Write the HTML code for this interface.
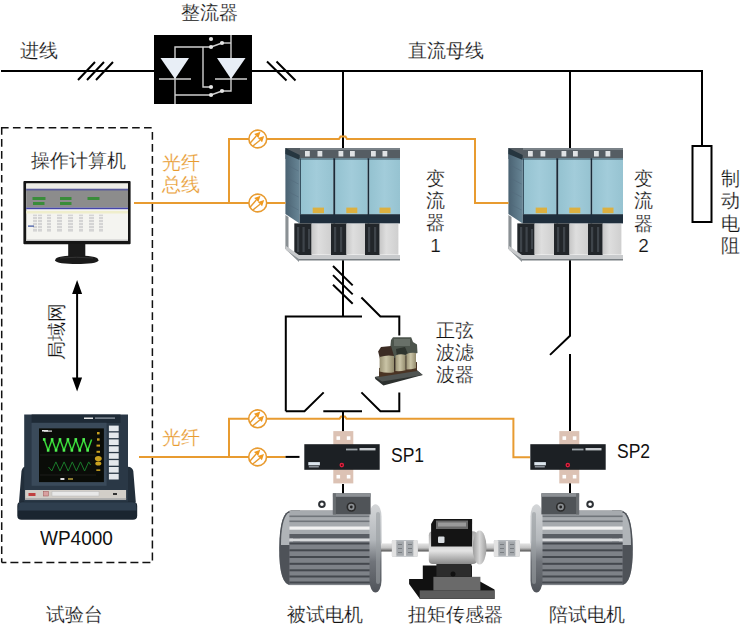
<!DOCTYPE html>
<html><head><meta charset="utf-8">
<style>
html,body{margin:0;padding:0;background:#fff;}
body{width:740px;height:626px;overflow:hidden;position:relative;font-family:"Liberation Sans",sans-serif;}
svg{position:absolute;left:0;top:0;}
.t{position:absolute;font-size:19px;line-height:22px;color:#111;-webkit-text-stroke:0.2px #fff;white-space:nowrap;}
.c{text-align:center;}
.o{color:#E89B30;}
</style></head><body>
<svg width="740" height="626" viewBox="0 0 740 626">
<defs>
 <linearGradient id="coil" x1="0" y1="0" x2="1" y2="0">
  <stop offset="0" stop-color="#9a9274"/><stop offset="0.45" stop-color="#cac4a6"/><stop offset="1" stop-color="#948c6e"/>
 </linearGradient>
 <linearGradient id="flange" x1="0" y1="0" x2="0" y2="1">
  <stop offset="0" stop-color="#d4d6d8"/><stop offset="0.4" stop-color="#b4b8bc"/><stop offset="0.65" stop-color="#70747a"/><stop offset="1" stop-color="#50545a"/>
 </linearGradient>
 <linearGradient id="shaft" x1="0" y1="0" x2="0" y2="1">
  <stop offset="0" stop-color="#e4e4e4"/><stop offset="0.55" stop-color="#c4c4c4"/><stop offset="1" stop-color="#505050"/>
 </linearGradient>
 <linearGradient id="bodyS" x1="0" y1="0" x2="0" y2="1">
  <stop offset="0" stop-color="#a8a8a8"/><stop offset="0.6" stop-color="#e4e4e4"/><stop offset="1" stop-color="#8a8a8a"/>
 </linearGradient>
 <linearGradient id="capS" x1="0" y1="0" x2="1" y2="0">
  <stop offset="0" stop-color="#9a9a9a"/><stop offset="0.5" stop-color="#d8d8d8"/><stop offset="1" stop-color="#a0a0a0"/>
 </linearGradient>

 <linearGradient id="silverV" x1="0" y1="0" x2="0" y2="1">
  <stop offset="0" stop-color="#e8e8e8"/><stop offset="0.5" stop-color="#c4c4c4"/><stop offset="1" stop-color="#9a9a9a"/>
 </linearGradient>
 <linearGradient id="silverH" x1="0" y1="0" x2="1" y2="0">
  <stop offset="0" stop-color="#c6c6c6"/><stop offset="0.35" stop-color="#dedede"/><stop offset="1" stop-color="#cfcfcf"/>
 </linearGradient>
 <linearGradient id="blueP" x1="0" y1="0" x2="1" y2="0">
  <stop offset="0" stop-color="#94c2d0"/><stop offset="0.5" stop-color="#a2ccda"/><stop offset="1" stop-color="#96c3d1"/>
 </linearGradient>
 <linearGradient id="sideP" x1="0" y1="0" x2="1" y2="0">
  <stop offset="0" stop-color="#4a6272"/><stop offset="1" stop-color="#688696"/>
 </linearGradient>

 <g id="optic">
  <circle cx="0" cy="0" r="8.9" fill="#fff" stroke="#E89B30" stroke-width="1.6"/>
  <path d="M-7.8 4.2 L-1.5 -3 M-5.2 7.3 L2.2 1.2" stroke="#E89B30" stroke-width="1.4" fill="none"/>
  <path d="M2.7 -7.2 L-3.6 -5.1 L0.6 -0.9 Z M6.4 -3 L0.1 -0.9 L4.3 3.3 Z" fill="#F09A20"/>
 </g>
 <g id="sp">
  <rect x="333.3" y="431.1" width="20" height="52.3" fill="#dcc2b4"/>
  <g fill="#fff"><rect x="336.5" y="436.3" width="3.6" height="3.6"/><rect x="346.8" y="436.3" width="3.6" height="3.6"/>
  <rect x="336.5" y="474.9" width="3.6" height="3.6"/><rect x="346.8" y="474.9" width="3.6" height="3.6"/></g>
  <rect x="304.3" y="444.2" width="75.4" height="25.6" fill="#1c2024"/>
  <rect x="308.3" y="462.1" width="11.6" height="3.2" fill="#dde6ee"/>
  <rect x="308.8" y="466" width="10" height="1.5" fill="#8a9098"/>
  <circle cx="341.8" cy="465.1" r="2.3" fill="#e02040"/>
  <circle cx="341.8" cy="465.1" r="0.9" fill="#400"/>
  <rect x="346" y="448.6" width="11.5" height="1.8" fill="#9aa0a6"/>
  <rect x="359.5" y="448" width="16" height="2.4" fill="#c8ccd0"/>
 </g>
 <g id="conv">
  <!-- top strip -->
  <path d="M285.4 148 H400 V159 H285.4 Z" fill="#555d63"/>
  <path d="M300 148 H400 V150 H300 Z" fill="#7a8288"/>
  <!-- frame left edge (lower) -->
  <path d="M285.4 215 V249 L299 262 V258 L288.5 248 V217 Z" fill="#8a9094"/>
  <!-- left side panel -->
  <path d="M285.4 150 L299.7 158.4 V223.4 L285.4 214 Z" fill="url(#sideP)"/>
  <path d="M285.4 148 L299.7 155 V160 L285.4 154 Z" fill="#263640"/>
  <g stroke="#52697a" stroke-width="0.5">
   <path d="M287 165 L298.5 171 M287 178 L298.5 184 M287 191 L298.5 197 M287 204 L298.5 210"/>
  </g>
  <!-- blue panels -->
  <rect x="299.7" y="158.4" width="33.6" height="56" fill="url(#blueP)"/>
  <rect x="335.2" y="158.4" width="32.4" height="56" fill="url(#blueP)"/>
  <rect x="369.2" y="158.4" width="30.8" height="56" fill="url(#blueP)"/>
  <rect x="299.7" y="158.4" width="100.3" height="1.3" fill="#5a7a88"/>
  <rect x="333.3" y="158.4" width="1.9" height="65" fill="#1a2a38"/>
  <rect x="367.6" y="158.4" width="1.6" height="65" fill="#1a2a38"/>
  <rect x="299.7" y="158.4" width="1.2" height="56" fill="#2e4656"/>
  <rect x="299.7" y="214.2" width="100.3" height="9.2" fill="#1f2e3c"/>
  <!-- yellow labels -->
  <rect x="312.7" y="207.6" width="11.3" height="5.6" fill="#dcb040"/>
  <rect x="346.3" y="207.6" width="11" height="5.6" fill="#dcb040"/>
  <rect x="379.5" y="207.6" width="11" height="5.6" fill="#dcb040"/>
  <!-- connectors on top -->
  <g fill="#dfe2e4">
   <rect x="305" y="151" width="4.8" height="5.5"/><rect x="317.5" y="151" width="4.8" height="5.5"/>
   <rect x="338.5" y="151" width="4.8" height="5.5"/><rect x="350" y="151" width="4.8" height="5.5"/>
   <rect x="371" y="151" width="4.8" height="5.5"/><rect x="382.5" y="151" width="4.8" height="5.5"/>
  </g>
  <!-- fans and silver boxes -->
  <g fill="#22262a">
   <rect x="294.3" y="223.4" width="17.3" height="31.6"/>
   <rect x="331" y="223.4" width="15.5" height="31.6"/>
   <rect x="365" y="223.4" width="14.7" height="31.6"/>
  </g>
  <g fill="#3e444a">
   <rect x="297" y="227" width="2.2" height="25"/><rect x="302.5" y="227" width="2.2" height="25"/><rect x="308" y="229" width="2" height="20"/>
   <rect x="334" y="227" width="2.2" height="25"/><rect x="340" y="227" width="2.2" height="25"/>
   <rect x="368" y="227" width="2.2" height="25"/><rect x="374" y="227" width="2.2" height="25"/>
  </g>
  <rect x="311.6" y="224" width="19.4" height="30.6" fill="url(#silverH)"/>
  <rect x="346.5" y="224" width="18.5" height="30.6" fill="url(#silverH)"/>
  <rect x="379.7" y="224" width="18.7" height="30.6" fill="url(#silverH)"/>
  <!-- base plate -->
  <path d="M286 246 L299 255 H400 V259 H299 L286 250 Z" fill="#c8cacc"/>
  <path d="M299 259 H400 V260.5 H299 Z" fill="#787e82"/>
 </g>
</defs>

<!-- dashed box -->
<g fill="none" stroke="#111" stroke-width="1.5">
 <path d="M1 127.7 H152.4" stroke-dasharray="7.62 4.3"/>
 <path d="M152.4 127.7 V562.4" stroke-dasharray="7.8 4.22" stroke-dashoffset="7.8"/>
 <path d="M1.7 562.4 H152.4" stroke-dasharray="8 4" stroke-dashoffset="3.3"/>
 <path d="M1.7 127 V562.4" stroke-dasharray="7.7 4.28"/>
</g>

<g stroke="#000" stroke-width="2" fill="none">
 <line x1="1" y1="71" x2="154" y2="71"/>
 <path d="M252 71 H702 V146" stroke-linejoin="round"/>
 <path d="M78 80 L95 62 M87 80 L104 62 M96 80 L113 62"/>
 <path d="M267 61.5 L286.5 80.5 M276.5 61.5 L295.5 80.5"/>
 <line x1="343" y1="71" x2="343" y2="148"/>
 <line x1="570" y1="71" x2="570" y2="148"/>
 <path d="M702 70 V146"/>
 <rect x="692.5" y="146" width="19" height="76"/>
 <!-- below converter 1 -->
 <path d="M343 259 V316.5"/>
 <path d="M333 266 L352.7 285.4 M333 275.1 L352.7 294.4 M333 284.7 L352.7 303.7"/>
 <path d="M285.8 411.3 V316.5 H362"/>
 <path d="M361.4 297.5 L380.4 316.5 H399.3 V335.5"/>
 <path d="M399.3 392.6 V411.3 H380.4 L361.4 392.4"/>
 <path d="M285.8 411.3 H304.5 L323.7 392.4"/>
 <path d="M323.3 411.3 H362"/>
 <path d="M343 411.3 V431"/>
 <path d="M343 484 V494"/>
 <!-- below converter 2 -->
 <path d="M570 259 V335.7 L550 354.9"/>
 <path d="M570 354.1 V431"/>
 <path d="M570 482 V493"/>
</g>

<!-- rectifier -->
<rect x="154" y="35" width="98" height="69" fill="#000"/>
<g stroke="#cfcfcf" stroke-width="1.4" fill="none">
 <path d="M175 104 V47 H211 M203 47 V87 H211"/>
 <path d="M175 95 H211"/>
 <path d="M231 35 V91 H222"/>
 <path d="M231 43 H222"/>
 <path d="M159 79 H191 M215 79 H247"/>
 <path d="M211 47 L222 43 M211 95 L222 91"/>
</g>
<g fill="#e8eef6">
 <path d="M160.5 58 H189 L175 79 Z"/>
 <path d="M217 58 H245.5 L231 79 Z"/>
</g>
<g fill="#e4e4e4">
 <circle cx="211" cy="39" r="2.1"/><circle cx="211" cy="47" r="2.1"/><circle cx="222" cy="43" r="2.1"/>
 <circle cx="211" cy="87" r="2.1"/><circle cx="211" cy="95" r="2.1"/><circle cx="222" cy="91" r="2.1"/>
</g>


<!-- computer monitor -->
<g>
 <rect x="23.4" y="180.9" width="107.2" height="63.3" rx="1" fill="#151515"/>
 <rect x="26.2" y="183.5" width="101.8" height="57.5" fill="#f4f4f0"/>
 <rect x="26.2" y="183.5" width="101.8" height="5.2" fill="#eeede6"/>
 <rect x="26.2" y="188.7" width="101.8" height="2.6" fill="#5a5c9a"/>
 <rect x="26.2" y="190.5" width="101.8" height="17.1" fill="#8c8c8c"/>
 <g fill="#3a8c3a">
  <rect x="32.5" y="197" width="13" height="3"/><rect x="60" y="197" width="11.5" height="3"/><rect x="87.5" y="197" width="12" height="3"/>
  <rect x="33" y="202" width="11.5" height="3"/><rect x="60" y="202" width="11.5" height="3"/>
 </g>
 <rect x="26.2" y="207.6" width="101.8" height="1.6" fill="#4444a8"/>
 <rect x="26.2" y="211" width="101.8" height="2.5" fill="#efeecc"/>
 <g fill="#d4d4d4">
  <rect x="33" y="214.6" width="4" height="17"/><rect x="38" y="214.6" width="4" height="17"/><rect x="47" y="214.6" width="4" height="17"/>
  <rect x="57" y="214.6" width="5" height="17"/><rect x="68" y="214.6" width="5" height="17"/><rect x="79" y="214.6" width="4" height="17"/>
  <rect x="89" y="214.6" width="5" height="17"/><rect x="99" y="214.6" width="4" height="17"/>
 </g>
 <g fill="#f4f4f0">
  <rect x="30" y="216" width="76" height="0.8"/><rect x="30" y="219" width="76" height="0.8"/><rect x="30" y="222" width="76" height="0.8"/><rect x="30" y="225" width="76" height="0.8"/><rect x="30" y="228" width="76" height="0.8"/>
 </g>
 <rect x="28" y="225.5" width="6" height="1.2" fill="#3850a0"/>
 <rect x="26.2" y="239.5" width="101.8" height="1.5" fill="#c8c8c8"/>
 <rect x="68.2" y="244" width="17.1" height="12" fill="#1a1a1a"/>
 <path d="M55.2 260.2 C55.2 256.6 66 255.6 76.7 255.6 C87.5 255.6 98.4 256.6 98.4 260.2 C98.4 263.2 88 263.9 76.7 263.9 C65.5 263.9 55.2 263.2 55.2 260.2 Z" fill="#1a1a1a"/>
 <path d="M60 258 Q76.7 256.5 93 258" stroke="#3a3a3a" stroke-width="0.8" fill="none"/>
</g>

<!-- LAN arrow -->
<path d="M77.1 292 V380" stroke="#000" stroke-width="2"/>
<path d="M77.1 280 L72.1 294 H82.1 Z M77.1 391.6 L72.1 377.6 H82.1 Z" fill="#000"/>

<!-- WP4000 -->
<g>
 <path d="M19 502 L21.5 471 Q22.5 467 25 466.8 V502 Z M135.8 502 L133.3 471 Q132.3 467 128 466.8 V502 Z" fill="#222e3a"/>
 <rect x="24.2" y="414.5" width="103.8" height="88" fill="#2a3846"/>
 <rect x="31.6" y="414.5" width="88.9" height="8.5" fill="#1e2a36"/>
 <rect x="84" y="417.5" width="9" height="1.5" fill="#e8e8e8"/><rect x="95" y="417.5" width="20" height="1.2" fill="#9aa4ae"/>
 <rect x="31.6" y="422.8" width="75" height="63" fill="#3a4a5a"/>
 <rect x="39" y="428.4" width="64.9" height="53.7" fill="#0a0c08"/>
 <rect x="42" y="430" width="6" height="1.5" fill="#eee"/>
 <path d="M44.2 439.4 L48.15 450.4 L52.10 439.4 L56.05 450.4 L60.00 439.4 L63.95 450.4 L67.90 439.4 L71.85 450.4 L75.80 439.4 L79.75 450.4 L83.70 439.4 L87.65 450.4 L91.60 439.4" stroke="#38d838" stroke-width="1.5" fill="none" stroke-linejoin="round"/>
 <g fill="#50f050"><rect x="42.90" y="438.1" width="2.6" height="2.6"/><rect x="46.85" y="449.1" width="2.6" height="2.6"/><rect x="50.80" y="438.1" width="2.6" height="2.6"/><rect x="54.75" y="449.1" width="2.6" height="2.6"/><rect x="58.70" y="438.1" width="2.6" height="2.6"/><rect x="62.65" y="449.1" width="2.6" height="2.6"/><rect x="66.60" y="438.1" width="2.6" height="2.6"/><rect x="70.55" y="449.1" width="2.6" height="2.6"/><rect x="74.50" y="438.1" width="2.6" height="2.6"/><rect x="78.45" y="449.1" width="2.6" height="2.6"/><rect x="82.40" y="438.1" width="2.6" height="2.6"/><rect x="86.35" y="449.1" width="2.6" height="2.6"/></g>
 <path d="M48.5 467 L51.80 471 L55.90 461.9 L60.00 471 L64.10 461.9 L68.20 471 L72.30 461.9 L76.40 471 L80.50 461.9 L84.60 471 L88.70 461.9 L90.60 465" stroke="#1a7a2a" stroke-width="1" fill="none"/>
 <path d="M40 455 H96 M40 475 H96" stroke="#2a2a2a" stroke-width="0.6"/>
 <rect x="44" y="430.5" width="8" height="1.2" fill="#ddd"/>
 <rect x="60.4" y="478" width="4" height="2" fill="#ddd"/><rect x="68" y="478" width="5" height="2" fill="#8a7a30"/>
 <g fill="#c8a020">
  <rect x="97" y="432" width="2.6" height="2.4"/><rect x="97" y="438.3" width="2.6" height="2.4"/><rect x="96.5" y="444.6" width="3.5" height="2"/><rect x="96.5" y="450.8" width="3.5" height="2"/>
  <ellipse cx="98.3" cy="458.6" rx="3.4" ry="2.6"/><ellipse cx="98.3" cy="463.6" rx="3" ry="2"/><rect x="96.3" y="469.4" width="4" height="1.5"/>
 </g>
 <g fill="#e4e8ec">
  <rect x="108.9" y="425.6" width="9.8" height="5.6"/><rect x="108.9" y="432.5" width="9.8" height="5.6"/><rect x="108.9" y="439.4" width="9.8" height="5.6"/><rect x="108.9" y="446.3" width="9.8" height="5.6"/>
  <rect x="108.9" y="453.2" width="9.8" height="5.6"/><rect x="108.9" y="460.1" width="9.8" height="5.6"/><rect x="108.9" y="467" width="9.8" height="5.6"/><rect x="108.9" y="473.9" width="9.8" height="5.6"/>
 </g>
 <rect x="25.1" y="490" width="101" height="9.7" fill="#d2cec8"/>
 <rect x="25.1" y="498" width="101" height="1.7" fill="#b0b0b0"/>
 <rect x="52" y="491.5" width="47" height="4.5" fill="#e8e8e8" stroke="#b8b8b8" stroke-width="0.5"/>
 <rect x="28.5" y="493" width="7" height="3" fill="#c04040"/>
 <rect x="43.6" y="491.5" width="4.7" height="4.5" fill="#d8a0a0" stroke="#a05050" stroke-width="0.5"/>
 <rect x="113" y="493" width="4" height="2" fill="#333"/>
 <path d="M17.3 506 Q17.3 501.8 21.5 501.8 H133 Q137.2 501.8 137.2 506 V515.5 Q137.2 519.8 133 519.8 H21.5 Q17.3 519.8 17.3 515.5 Z" fill="#1a2530"/>
 <path d="M18.5 504 Q19 502.2 22 502.2 H132.5 Q135.8 502.2 136 504 L136.5 510.5 H18 Z" fill="#2e3e4e"/>
</g>

<!-- filter -->
<g>
 <path d="M374.8 377 L417 370.3 L422.7 375 L383.4 385.6 L375.3 379 Z" fill="#2c302e"/>
 <path d="M374.8 377 L417 370.3 L422.7 375 L382 381.5 Z" fill="#505452"/>
 <path d="M379 368 L417 362 V371 L379 377 Z" fill="#4a3424"/>
 <path d="M381 358 L416 352 V368 L381 372 Z" fill="#3a3028"/>
 <path d="M393 337.2 H411.2 L413 342 L417 344.4 L417.5 353 L406 356 L394 358 L390 350 L391 340 Z" fill="#4c544c"/>
 <path d="M394 339 H410 V346 H394 Z" fill="#687068"/>
 <path d="M378.1 351.6 L381 347 L391 346 L394 356 L380 359 Z" fill="#3c2c24"/>
 <path d="M396 349 L405 347 L408 354 L397 357 Z" fill="#2e342e"/>
 <path d="M379.6 357 Q386.8 354.5 394 355.9 V372.2 Q386.8 373.5 379.6 371.5 Z" fill="url(#coil)"/>
 <path d="M395.4 355.5 Q400.5 353.5 405.5 355 V370.3 Q400.5 371.5 395.4 371 Z" fill="url(#coil)"/>
 <path d="M406.4 354 Q411.2 352 416 353 V368.3 Q411.2 369.5 406.4 369.5 Z" fill="url(#coil)"/>
</g>

<!-- motors -->
<g id="motor">
 <path d="M291 510.7 H370 V585.1 H291 Q279 585 279.3 548 Q279.6 511 291 510.7 Z" fill="#7c8086"/>
 <path d="M291 510.7 H300 V585.1 H291 Q279 585 279.3 548 Q279.6 511 291 510.7 Z" fill="#4e5258"/>
 <path d="M288 513 Q281 520 281 545 H293 V513 Z" fill="#b0b4b8"/>
 <rect x="289.4" y="510.7" width="44" height="1.6" fill="#55595e"/>
 <rect x="289.4" y="511" width="80.6" height="23" fill="#a6aaae"/>
 <g fill="#70757a">
  <rect x="289.4" y="515.5" width="80.6" height="1.6"/><rect x="289.4" y="520.5" width="80.6" height="1.6"/>
 </g>
 <rect x="289.4" y="526.5" width="80.6" height="3.2" fill="#f2f2f2"/>
 <rect x="289.4" y="534" width="80.6" height="4.5" fill="#5a5e64"/>
 <rect x="289.4" y="538.5" width="80.6" height="3" fill="#d8dadc"/>
 <rect x="289.4" y="541.5" width="80.6" height="43.6" fill="#7e8288"/>
 <g fill="#44484e">
  <rect x="289.4" y="542.5" width="80.6" height="2"/><rect x="289.4" y="549.3" width="80.6" height="2"/><rect x="289.4" y="556" width="80.6" height="2"/>
  <rect x="289.4" y="562.8" width="80.6" height="2"/><rect x="289.4" y="569.3" width="80.6" height="2"/><rect x="289.4" y="575.5" width="80.6" height="2"/><rect x="289.4" y="581.5" width="80.6" height="2"/>
 </g>
 <rect x="369.5" y="504.3" width="12" height="88.2" rx="6" ry="12" fill="url(#flange)"/>
 <rect x="376" y="512" width="4" height="72" rx="2" fill="#9a9ea2" opacity="0.6"/>
 <rect x="332.9" y="493.3" width="37.7" height="21.1" fill="#505458"/>
 <rect x="332.9" y="493.3" width="37.7" height="3.5" fill="#8c9094"/>
 <rect x="332.9" y="493.3" width="3" height="21.1" fill="#6a6e72"/>
 <circle cx="351.3" cy="507" r="4" fill="#8a8e92" stroke="#2a2a2a" stroke-width="1.6"/>
 <circle cx="351.3" cy="507" r="1.4" fill="#222"/>
 <circle cx="321.9" cy="504.3" r="2.8" fill="none" stroke="#2e3236" stroke-width="2"/>
 <rect x="381" y="543.4" width="11" height="8.1" fill="url(#shaft)"/>
</g>
<use href="#motor" transform="translate(912,0) scale(-1,1)"/>

<!-- torque sensor -->
<g>
 <rect x="417" y="543.4" width="78" height="8.1" fill="url(#shaft)"/>
 <g id="coupling">
  <rect x="391.9" y="540.1" width="25.9" height="16.7" rx="1.5" fill="#b8bcc0"/>
  <rect x="391.9" y="540.1" width="4.6" height="16.7" rx="1.5" fill="#e2e2e2"/>
  <rect x="413.2" y="540.1" width="4.6" height="16.7" rx="1.5" fill="#e2e2e2"/>
  <rect x="396.5" y="541.5" width="16.7" height="14" fill="#a4a8ac"/>
  <rect x="403.9" y="541" width="2.2" height="15" fill="#e4e4e4"/>
  <g fill="#7a7e82"><rect x="398" y="544" width="4" height="1"/><rect x="398" y="548" width="4" height="1"/><rect x="398" y="552" width="4" height="1"/>
  <rect x="408" y="544" width="4" height="1"/><rect x="408" y="548" width="4" height="1"/><rect x="408" y="552" width="4" height="1"/></g>
 </g>
 <use href="#coupling" transform="translate(102,0)"/>
 <path d="M409.1 579 H422.8 V565.4 H472 V577 L494.5 589.5 V599 H420 L409.1 584 Z" fill="#111"/>
 <rect x="419.7" y="590.4" width="75" height="8.4" fill="#5c5c5c"/>
 <rect x="433.4" y="576.8" width="47" height="13.6" fill="#6a6a6a"/>
 <rect x="436.4" y="563" width="35" height="13.8" fill="#2c2c2c"/>
 <circle cx="453" cy="574" r="2.5" fill="#111"/>
 <rect x="428.8" y="531.2" width="48" height="32.7" rx="4" fill="url(#bodyS)"/>
 <ellipse cx="479.6" cy="547.5" rx="6.9" ry="17" fill="url(#capS)"/>
 <path d="M434 519.1 H472.1 V546.4 H431.1 V524 Z" fill="#141414"/>
 <rect x="436" y="520.5" width="32" height="8.5" fill="#6a6a6a"/>
 <rect x="438" y="522.5" width="28" height="4" fill="#9a9a9a"/>
 <rect x="438" y="536.5" width="6.5" height="6.5" rx="1" fill="#d8dce0"/>
</g>

<!-- converters -->
<use href="#conv"/>
<use href="#conv" transform="translate(223,0)"/>


<!-- orange fiber lines -->
<g stroke="#E89B30" stroke-width="2" fill="none">
 <path d="M134 203 H285.5"/>
 <path d="M229 203 V139 H339 L340.5 136.5 H345.5 L347 139 H475 V203 H508.5"/>
 <path d="M139 457 H285.5"/>
 <path d="M229 457 V418.8 H339.5 L341 416.6 H345 L346.5 418.8 H513.4 V457.2 H530"/>
</g>
<use href="#optic" transform="translate(257.8,139)"/>
<use href="#optic" transform="translate(257.8,203)"/>
<use href="#optic" transform="translate(257.6,418.8)"/>
<use href="#optic" transform="translate(257.6,457)"/>
<path d="M285.5 456.9 H299.5" stroke="#000" stroke-width="2"/>
<path d="M343 411 V432" stroke="#000" stroke-width="1.8"/>
<use href="#sp"/>
<use href="#sp" transform="translate(226,0)"/>
</svg>
<div class="t" style="left:181px;top:2px">整流器</div>
<div class="t" style="left:20px;top:40px">进线</div>
<div class="t" style="left:408px;top:40px">直流母线</div>

<div class="t" style="left:30.5px;top:149.5px">操作计算机</div>
<div class="t o" style="left:162px;top:151.8px">光纤<br>总线</div>
<div class="t o" style="left:162px;top:427px">光纤</div>
<div class="t" style="left:425.5px;top:167.5px;text-align:center;width:20px;line-height:22.4px">变<br>流<br>器<br>1</div>
<div class="t" style="left:633.5px;top:168px;text-align:center;width:20px;line-height:22.4px">变<br>流<br>器<br>2</div>
<div class="t" style="left:721px;top:167.5px;line-height:22.5px">制<br>动<br>电<br>阻</div>
<div class="t" style="left:436px;top:320px">正弦<br>波滤<br>波器</div>
<div class="t" style="left:390.5px;top:443.5px;font-size:20px;-webkit-text-stroke:0;transform:scaleX(0.875);transform-origin:0 0">SP1</div>
<div class="t" style="left:617px;top:440px;font-size:20px;-webkit-text-stroke:0;transform:scaleX(0.875);transform-origin:0 0">SP2</div>
<div class="t" style="left:39.8px;top:526.5px;font-size:20px;-webkit-text-stroke:0;transform:scaleX(0.95);transform-origin:0 0">WP4000</div>
<div class="t" style="left:45.5px;top:603.5px">试验台</div>
<div class="t" style="left:287px;top:603.5px">被试电机</div>
<div class="t" style="left:408px;top:604px">扭矩传感器</div>
<div class="t" style="left:549px;top:603.5px;font-size:18.5px">陪试电机</div>
<div class="t" style="left:28.6px;top:321px;transform:rotate(-90deg);transform-origin:28px 11px">局域网</div>
</body></html>
